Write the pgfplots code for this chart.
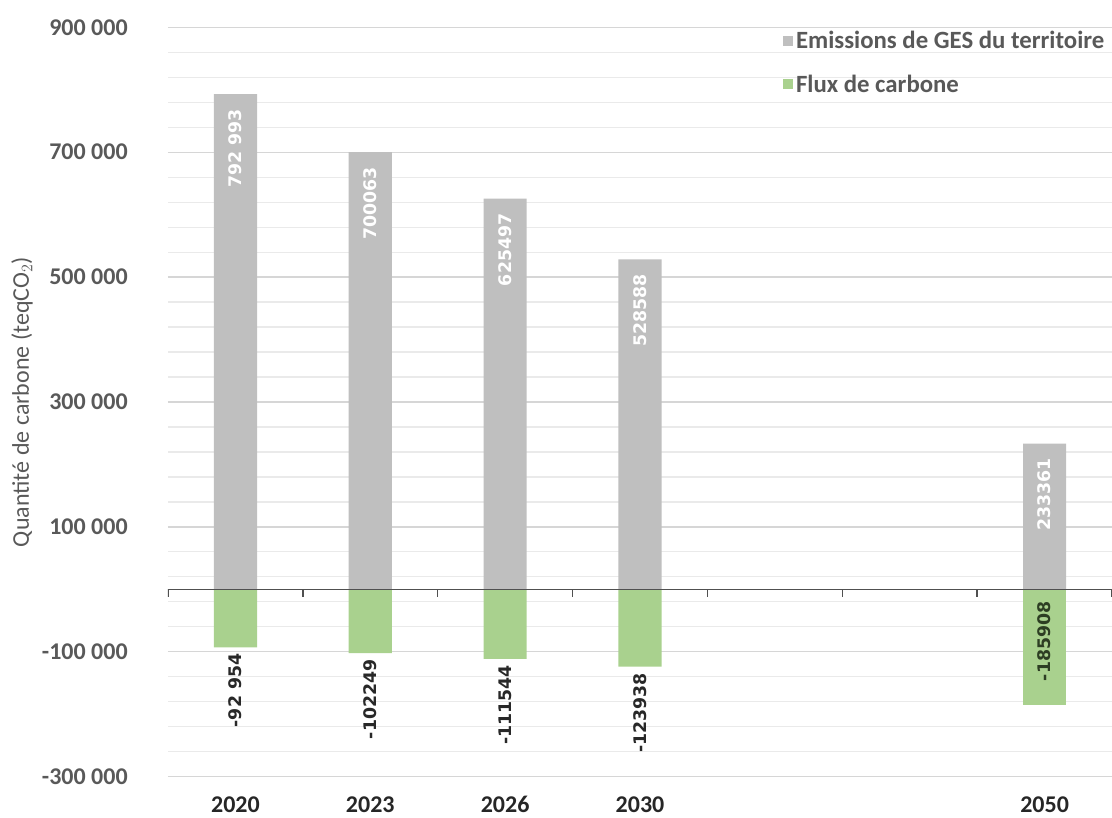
\documentclass[border=0pt]{standalone}
\usepackage{fontspec}
\setmainfont{Carlito}
\newfontfamily\dejavu{DejaVu Sans}
\usepackage{pgfplots}
\pgfplotsset{compat=1.18}
\usetikzlibrary{calc}
\definecolor{gesgrey}{RGB}{191,191,191}
\definecolor{fluxgreen}{RGB}{169,209,142}
\definecolor{ticktext}{RGB}{89,89,89}
\definecolor{yeartext}{RGB}{38,38,38}
\definecolor{gridmajor}{RGB}{214,214,214}
\definecolor{gridminor}{RGB}{234,234,234}
\definecolor{zeroline}{RGB}{80,80,80}
\definecolor{darklabel}{RGB}{40,40,40}
\definecolor{greenlabel}{RGB}{45,62,35}

\begin{document}
\begin{tikzpicture}
\begin{axis}[
    scale only axis,
    width=708pt,height=562pt,
    xmin=-0.5,xmax=6.5,
    ymin=-300000,ymax=900000,
    xtick={0,...,6},
    xticklabels={2020,2023,2026,2030,,,2050},
    ytick={-300000,-100000,100000,300000,500000,700000,900000},
    yticklabels={-300 000,-100 000,100 000,300 000,500 000,700 000,900 000},
    scaled y ticks=false,
    minor y tick num=4,
    ymajorgrids,yminorgrids,
    major grid style={draw=gridmajor,line width=1pt},
    minor grid style={draw=gridminor,line width=0.9pt},
    axis line style={draw=none},
    major tick length=0pt,minor tick length=0pt,
    tick style={draw=none},
    xticklabel style={font=\fontsize{18}{20}\selectfont\bfseries,text=yeartext,anchor=north,inner sep=0pt,yshift=-14.5pt},
    yticklabel style={font=\fontsize{18}{20}\selectfont\bfseries,text=ticktext,anchor=east,inner sep=0pt,xshift=-30pt},
    ylabel={Quantité de carbone (teqCO$_2$)},
    every axis y label/.style={at={(axis description cs:-0.1547,0.5)},rotate=90,anchor=center,
        font=\fontsize{18}{20}\selectfont,text=ticktext},
    ybar,bar width=0.32,
    legend style={draw=none,fill=none,at={(0.651,0.999)},anchor=north west,
        font=\fontsize{18.6}{20}\selectfont\bfseries,text=ticktext,row sep=13pt,inner sep=0pt,
        nodes={inner sep=2.4pt}},
    legend cell align=left,
    legend image code/.code={\fill[#1] (0pt,-3.75pt) rectangle (7.5pt,3.75pt);},
]
% Emissions de GES du territoire
\addplot[fill=gesgrey,draw=none,bar shift=0pt,
    nodes near coords,point meta=explicit symbolic,
    every node near coord/.style={rotate=90,anchor=east,inner xsep=11pt,inner ysep=0pt,
        font=\dejavu\fontsize{13}{15}\selectfont\bfseries,text=white}]
  coordinates {(0,792993) [792\hspace{0.35em}993] (1,700063) [700063] (2,625497) [625497]
               (3,528588) [528588] (6,233361) [233361]};
\addlegendentry{Emissions de GES du territoire}
% Flux de carbone
\addplot[fill=fluxgreen,draw=none,bar shift=0pt,
    nodes near coords,point meta=explicit symbolic,
    every node near coord/.style={rotate=90,anchor=east,inner xsep=4.5pt,inner ysep=0pt,
        font=\dejavu\fontsize{13}{15}\selectfont\bfseries,text=darklabel}]
  coordinates {(0,-92954) [-92\hspace{0.35em}954] (1,-102249) [-102249] (2,-111544) [-111544]
               (3,-123938) [-123938]};
\addlegendentry{Flux de carbone}
\addplot[fill=fluxgreen,draw=none,bar shift=0pt,forget plot]
  coordinates {(6,-185908)};
% label of the 2050 carbon flux, set inside the bar
\addplot[draw=none,fill=none,bar shift=0pt,forget plot,
    nodes near coords,point meta=explicit symbolic,
    every node near coord/.style={rotate=90,anchor=east,inner xsep=9pt,inner ysep=0pt,
        font=\dejavu\fontsize{13}{15}\selectfont\bfseries,text=greenlabel}]
  coordinates {(6,0) [-185908]};
% zero line with category separators
\draw[zeroline,line width=1.1pt] (axis cs:-0.5,0) -- (axis cs:6.5,0);
\pgfplotsinvokeforeach{-0.5,0.5,1.5,2.5,3.5,4.5,5.5,6.5}{
  \draw[zeroline,line width=1pt] (axis cs:#1,0) -- ([yshift=-6pt]axis cs:#1,0);
}
\coordinate (sw) at (rel axis cs:0,0);
\coordinate (ne) at (rel axis cs:1,1);
\end{axis}
\pgfresetboundingbox
\path ($(sw)+(-126pt,-30.75pt)$) rectangle ($(ne)+(0pt,20.5pt)$);
\end{tikzpicture}
\end{document}
